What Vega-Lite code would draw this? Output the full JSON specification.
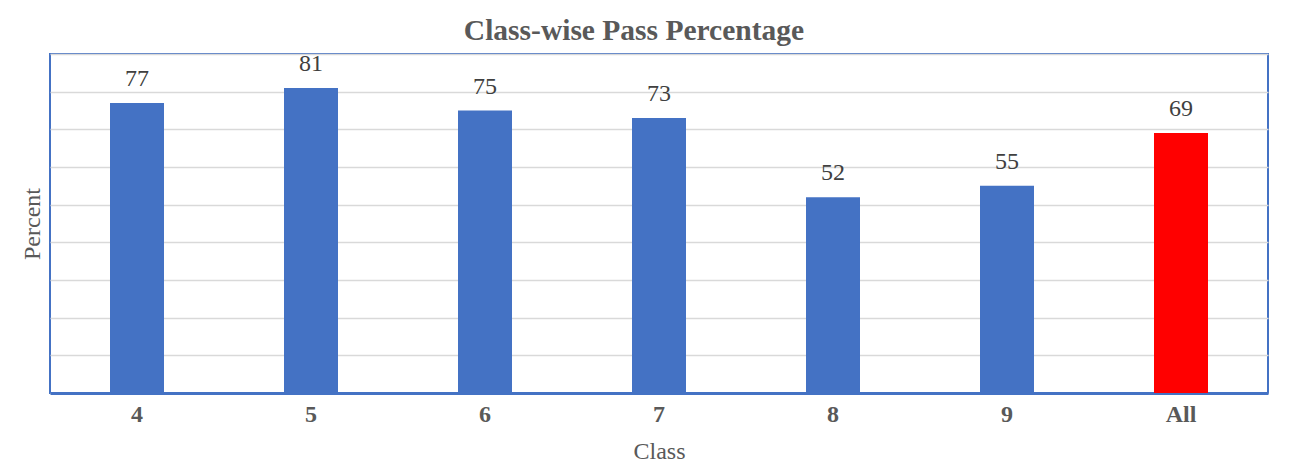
{
  "$schema": "https://vega.github.io/schema/vega-lite/v6.json",
  "autosize": {"type": "none"},
  "padding": {"left": 50, "top": 54, "right": 28, "bottom": 73},
  "width": 1218,
  "height": 339,
  "background": "white",
  "config": {
    "view": {"stroke": "#4472c4", "strokeWidth": 2},
    "font": "Liberation Serif"
  },
  "title": {
    "text": "Class-wise Pass Percentage",
    "font": "Liberation Serif",
    "fontSize": 29.5,
    "fontWeight": "bold",
    "color": "#595959",
    "anchor": "middle",
    "dx": -25,
    "offset": 5
  },
  "data": {
    "values": [
      {"Class": "4", "Percent": 77},
      {"Class": "5", "Percent": 81},
      {"Class": "6", "Percent": 75},
      {"Class": "7", "Percent": 73},
      {"Class": "8", "Percent": 52},
      {"Class": "9", "Percent": 55},
      {"Class": "All", "Percent": 69}
    ]
  },
  "encoding": {
    "x": {
      "field": "Class", "type": "nominal", "sort": null, "title": "Class",
      "axis": {
        "labelAngle": 0, "labelFont": "Liberation Serif", "labelFontSize": 24,
        "labelFontWeight": "bold", "labelColor": "#595959", "labelPadding": 9,
        "ticks": false, "domainColor": "#4472c4", "domainWidth": 3,
        "titleFont": "Liberation Serif", "titleFontSize": 24, "titleFontWeight": "normal",
        "titleColor": "#595959", "titlePadding": 13
      }
    },
    "y": {
      "field": "Percent", "type": "quantitative", "title": "Percent",
      "scale": {"domain": [0, 90]},
      "axis": {
        "values": [0, 10, 20, 30, 40, 50, 60, 70, 80, 90],
        "labels": false, "ticks": false, "domain": false,
        "gridColor": "#d9d9d9", "gridWidth": 1.5,
        "titleFont": "Liberation Serif", "titleFontSize": 24, "titleFontWeight": "normal",
        "titleColor": "#595959", "titlePadding": 6
      }
    }
  },
  "layer": [
    {
      "mark": {"type": "bar", "size": 54},
      "encoding": {
        "color": {
          "condition": {"test": "datum.Class === 'All'", "value": "#ff0000"},
          "value": "#4472c4"
        }
      }
    },
    {
      "mark": {"type": "text", "baseline": "alphabetic", "dy": -17, "fontSize": 24, "font": "Liberation Serif", "color": "#404040"},
      "encoding": {"text": {"field": "Percent", "type": "quantitative"}}
    }
  ]
}
